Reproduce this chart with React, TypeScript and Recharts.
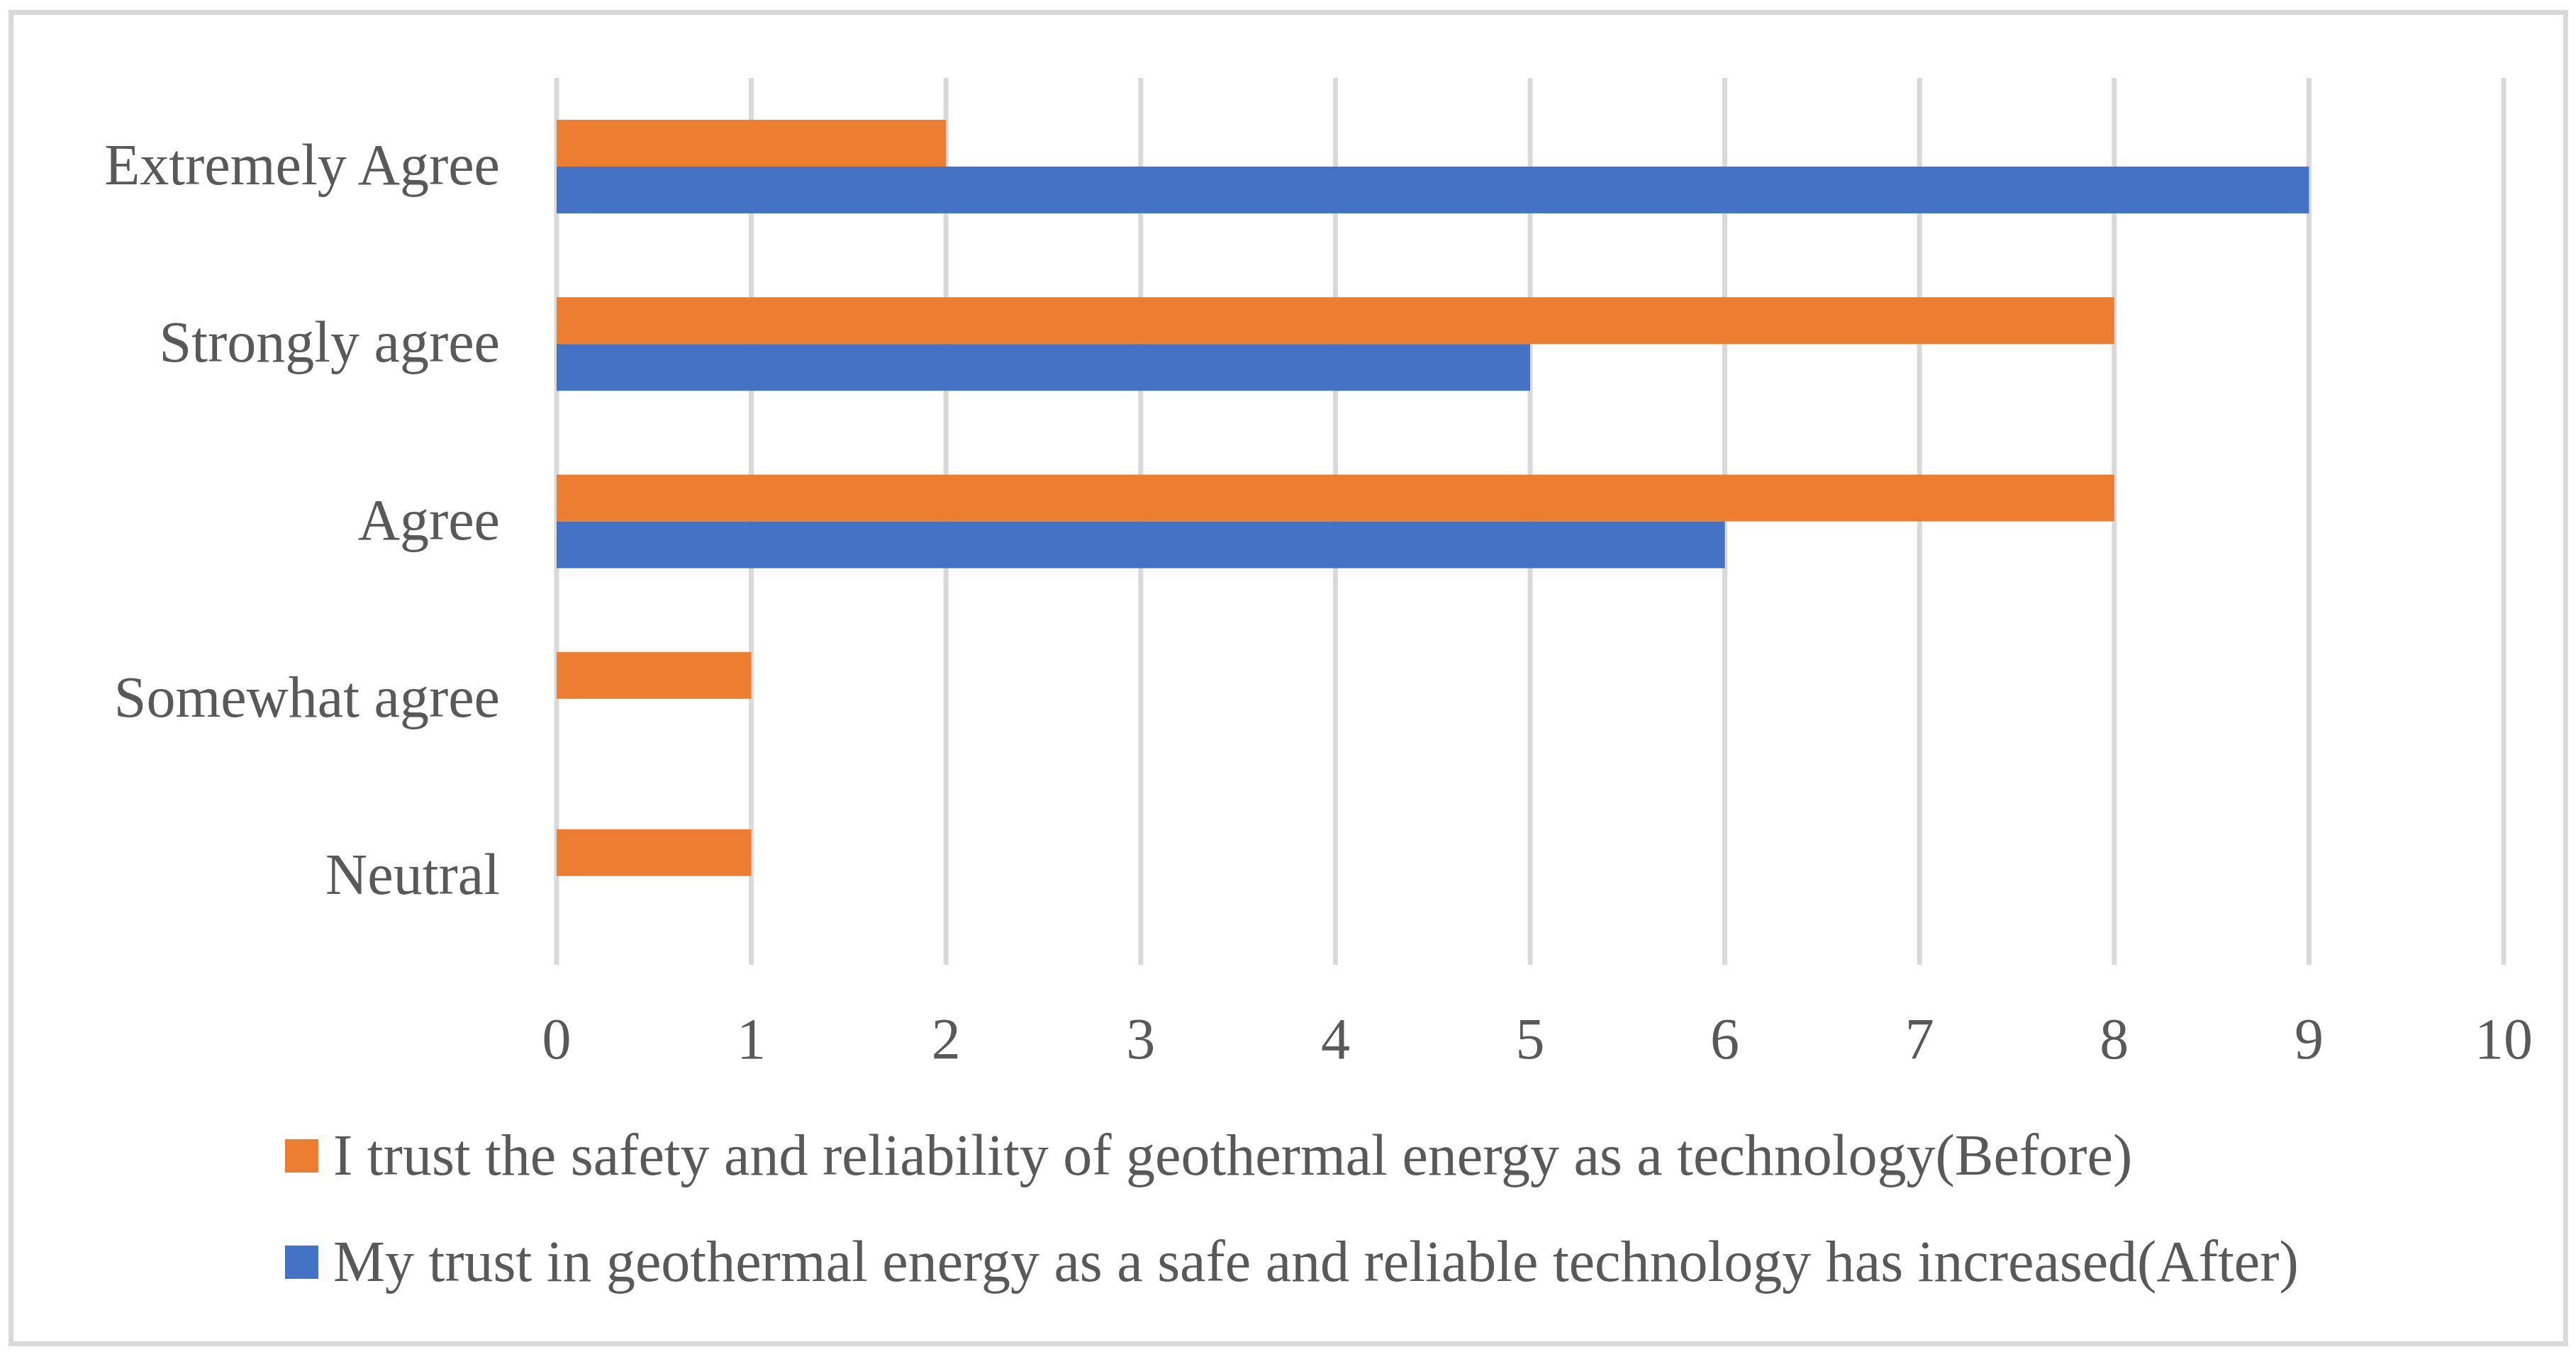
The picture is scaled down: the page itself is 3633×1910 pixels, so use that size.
import React from "react";
import { BarChart, Bar, XAxis, YAxis, CartesianGrid, Legend } from "recharts";

// Survey answers, top to bottom as they appear in the chart
const categories = ["Extremely Agree", "Strongly agree", "Agree", "Somewhat agree", "Neutral"];
const beforeValues = [2, 8, 8, 1, 1];
const afterValues = [9, 5, 6, 0, 0];
const xTicks = [0, 1, 2, 3, 4, 5, 6, 7, 8, 9, 10];
const seriesNames = [
  "I trust the safety and reliability of geothermal energy as a technology(Before)",
  "My trust in geothermal energy as a safe and reliable technology has increased(After)",
];

const ORANGE = "#ED7D31";
const BLUE = "#4472C4";
const GRID = "#D9D9D9";
const TEXT = "#595959";
const FONT = "'Liberation Serif', 'Times New Roman', serif";
const FONT_SIZE = 82;

const data = categories.map((name, i) => ({
  name,
  before: beforeValues[i],
  after: afterValues[i],
}));

const LegendRows = (props: any) => {
  const { payload } = props;
  return (
    <div style={{ height: 300, fontFamily: FONT, fontSize: FONT_SIZE, color: TEXT }}>
      {(payload || []).map((entry: any, i: number) => (
        <div
          key={`legend-${i}`}
          style={{ height: 150, display: "flex", alignItems: "center", lineHeight: 1, whiteSpace: "nowrap" }}
        >
          <span style={{ width: 47, height: 47, background: entry.color, marginRight: 21, flex: "none" }} />
          <span>{entry.value}</span>
        </div>
      ))}
    </div>
  );
};

export default function App() {
  return (
    <div style={{ position: "relative", width: 3633, height: 1910, background: "#fff" }}>
      <style>{"body{margin:0}"}</style>
      {/* chart area frame */}
      <div
        style={{
          position: "absolute",
          left: 12,
          top: 14,
          width: 3610,
          height: 1885,
          border: `7px solid ${GRID}`,
          boxSizing: "border-box",
        }}
      />
      <div style={{ position: "absolute", left: 0, top: 0 }}>
        <BarChart
          width={3633}
          height={1910}
          data={data}
          layout="vertical"
          margin={{ top: 110, right: 102, left: 0, bottom: 109 }}
          barCategoryGap="23.6%"
          barGap={0}
        >
          <CartesianGrid horizontal={false} stroke={GRID} strokeWidth={7} />
          <XAxis
            type="number"
            domain={[0, 10]}
            ticks={xTicks}
            axisLine={false}
            tickLine={false}
            tickSize={0}
            tickMargin={74}
            height={140}
            interval={0}
            tick={{ fill: TEXT, fontSize: FONT_SIZE, fontFamily: FONT }}
          />
          <YAxis
            type="category"
            dataKey="name"
            width={785}
            axisLine={false}
            tickLine={false}
            tickSize={0}
            tickMargin={80}
            interval={0}
            tick={{ fill: TEXT, fontSize: FONT_SIZE, fontFamily: FONT, dy: -4 }}
          />
          <Legend
            verticalAlign="bottom"
            align="left"
            content={<LegendRows />}
            wrapperStyle={{ top: 1555, left: 402, width: 3100, height: 300 }}
          />
          <Bar dataKey="before" name={seriesNames[0]} fill={ORANGE} isAnimationActive={false} />
          <Bar dataKey="after" name={seriesNames[1]} fill={BLUE} isAnimationActive={false} />
        </BarChart>
      </div>
    </div>
  );
}
